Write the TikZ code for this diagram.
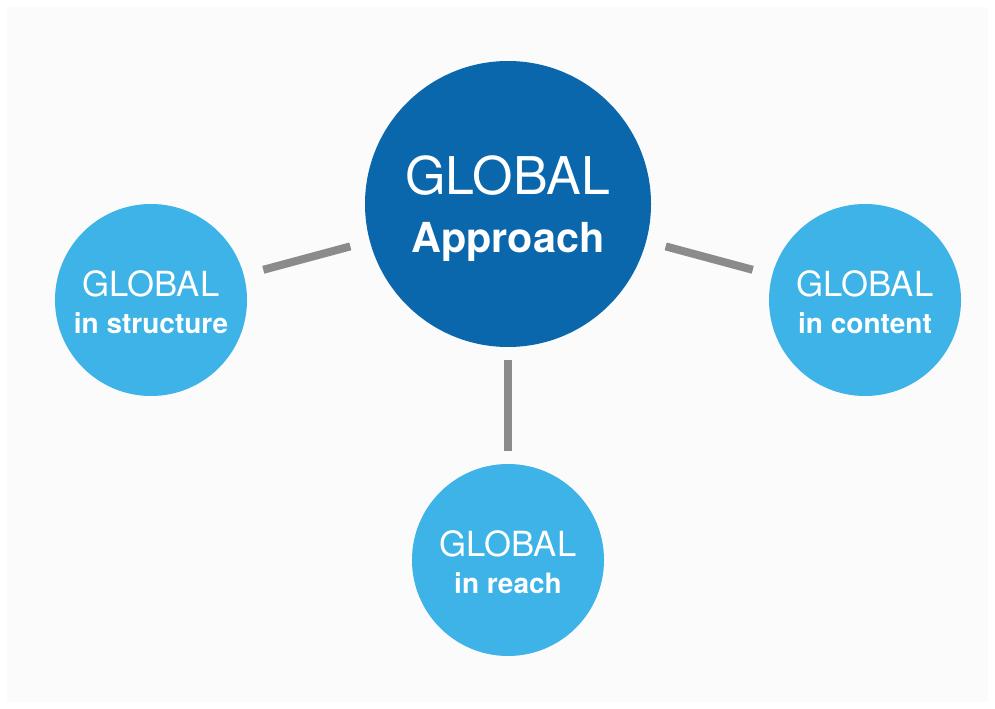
\documentclass[tikz,border=0pt]{standalone}
\usepackage{fontspec}
\setmainfont{TeX Gyre Heros}
\usepackage{tikz}
\usetikzlibrary{positioning}
\definecolor{bigblue}{HTML}{0B67AB}
\definecolor{smallblue}{HTML}{3DB3E7}
\definecolor{linkgray}{HTML}{8B8B8D}
\definecolor{paper}{HTML}{FBFBFB}

\begin{document}
\begin{tikzpicture}[x=0.75pt, y=-0.75pt,
		bigcircle/.style={circle, fill=bigblue, text=white, minimum size=214.5pt, inner sep=0pt, align=center, font=\fontsize{39}{43.5}\selectfont},
		smallcircle/.style={circle, fill=smallblue, text=white, minimum size=144pt, inner sep=0pt, align=center, font=\fontsize{26}{28}\selectfont},
		link/.style={draw=linkgray, line width=6pt, shorten <=15pt, shorten >=15pt}]
				\useasboundingbox (0,0) rectangle (995,709);
				\fill[white] (0,0) rectangle (995,709);
				\fill[paper] (7,7) rectangle (988,702);
				
				\node (approach) [bigcircle] at (508,204) {GLOBAL\\{\bfseries\fontsize{31}{43.5}\selectfont\smash{Approach}}};
				\node (structure) [smallcircle] at (151,300) {\rule{0pt}{23pt}GLOBAL\\{\bfseries\fontsize{21}{28}\selectfont in structure}};
				\node (content) [smallcircle] at (865,300) {\rule{0pt}{23pt}GLOBAL\\{\bfseries\fontsize{21}{28}\selectfont in content}};
				\node (reach) [smallcircle, below of=approach, node distance=267pt] {\rule{0pt}{23pt}GLOBAL\\{\bfseries\fontsize{21}{28}\selectfont in reach}};
				
				% Links
				\draw[link] (approach) -- (structure);
				\draw[link] (approach) -- (content);
				\draw[link, shorten <=9.5pt, shorten >=9.5pt] (approach) -- (reach);
			\end{tikzpicture}
\end{document}
